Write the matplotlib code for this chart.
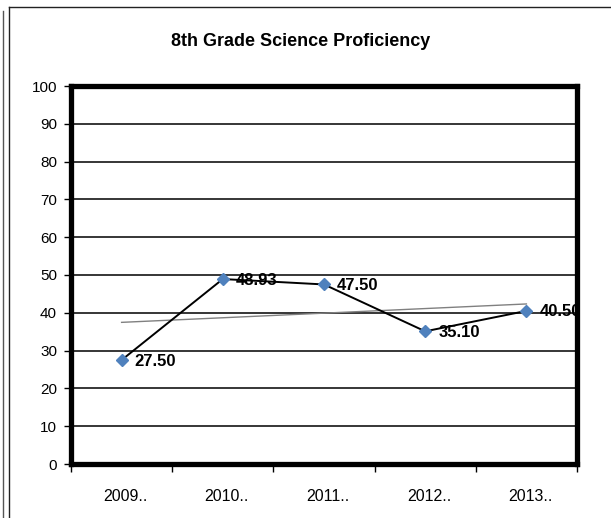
import matplotlib
matplotlib.use("Agg")
import matplotlib.pyplot as plt
import numpy as np
from matplotlib.lines import Line2D
from matplotlib.transforms import ScaledTranslation

plt.rcParams['font.family'] = ['Liberation Sans', 'DejaVu Sans']

title = "8th Grade Science Proficiency"
categories = ["2009..", "2010..", "2011..", "2012..", "2013.."]
values = [27.50, 48.93, 47.50, 35.10, 40.50]
value_labels = ["27.50", "48.93", "47.50", "35.10", "40.50"]
yticks = [0, 10, 20, 30, 40, 50, 60, 70, 80, 90, 100]

W, H = 611, 518
fig = plt.figure(figsize=(W / 100, H / 100), dpi=100)
fig.patch.set_facecolor('white')

def fx(px): return px / W
def fy(py): return 1 - py / H

# outer frame lines
fig.add_artist(Line2D([fx(9), fx(610)], [fy(7), fy(7)], color='#222222', lw=1.0))
fig.add_artist(Line2D([fx(9), fx(9)], [fy(7), fy(518)], color='#222222', lw=1.0))
fig.add_artist(Line2D([fx(3), fx(3)], [fy(11), fy(518)], color='#555555', lw=1.0))

left, right, top, bottom = 71, 577, 86, 464
ax = fig.add_axes([fx(left), fy(bottom), (right - left) / W, (bottom - top) / H])

x = np.arange(len(categories))
ax.set_xlim(-0.5, len(categories) - 0.5)
ax.set_ylim(0, 100)

for yv in yticks[1:-1]:
    ax.axhline(yv, color='black', lw=1.1, zorder=1)

# linear trendline fitted to the data
coef = np.polyfit(x, values, 1)
ax.plot([x[0], x[-1]], np.polyval(coef, [x[0], x[-1]]), color='#808080', lw=1.0, zorder=2)

ax.plot(x, values, color='black', lw=1.4, zorder=3, marker='D', markersize=6.5,
        markerfacecolor='#4F81BD', markeredgecolor='#4F81BD')

for xi, v, lab in zip(x, values, value_labels):
    ax.annotate(lab, (xi, v), xytext=(13, -1), textcoords='offset pixels',
                ha='left', va='center', fontsize=12, fontweight='bold',
                zorder=2.5, annotation_clip=False)

for s in ax.spines.values():
    s.set_linewidth(3.8)
    s.set_color('black')
    s.set_zorder(4)

ax.set_yticks(yticks)
ax.set_yticklabels([str(t) for t in yticks], fontsize=11)
ax.tick_params(axis='y', length=5, width=1, pad=5, direction='out')

ax.set_xticks(np.arange(-0.5, len(categories), 1.0))
ax.set_xticklabels([])
ax.tick_params(axis='x', which='major', length=6, width=1, direction='out')
ax.set_xticks(x, minor=True)
ax.set_xticklabels(categories, minor=True, fontsize=11.5)
ax.tick_params(axis='x', which='minor', length=0, pad=18)
offset = ScaledTranslation(4 / 100, 0, fig.dpi_scale_trans)
for lbl in ax.get_xticklabels(minor=True):
    lbl.set_transform(lbl.get_transform() + offset)

fig.text(fx(301), fy(41), title, ha='center', va='center', fontsize=13, fontweight='bold')

fig.savefig('out.png', dpi=100, facecolor='white')
